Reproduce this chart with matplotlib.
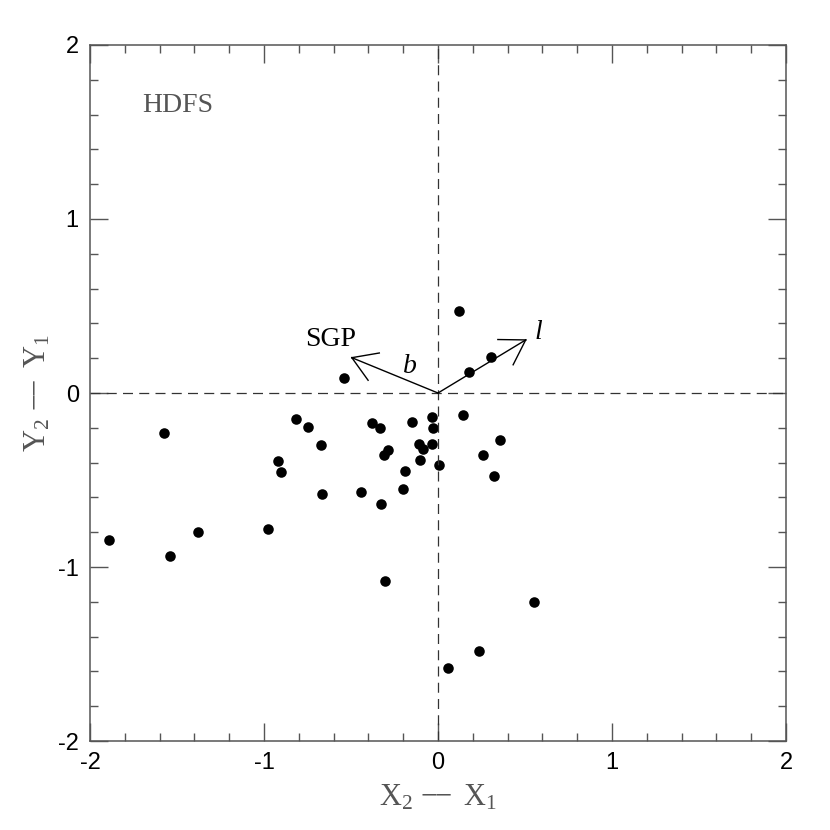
import numpy as np
import matplotlib
matplotlib.use("Agg")
import matplotlib.pyplot as plt

plt.rcParams['axes.unicode_minus'] = False
plt.rcParams['mathtext.fontset'] = 'custom'
plt.rcParams['mathtext.rm'] = 'Liberation Serif'
plt.rcParams['mathtext.it'] = 'Liberation Serif:italic'

# positional offsets of the HDFS objects
dx = [0.118, 0.307, 0.176, -0.541, -1.572, -0.816, -0.745, -0.673, -0.921, -0.904,
      -0.666, -0.379, -0.333, -0.151, -0.032, 0.145, -0.028, -0.108, -0.089, -0.036,
      0.358, 0.261, -0.287, -0.312, -0.101, -0.191, 0.007, 0.322, -0.441, -0.203,
      -0.327, -0.979, -1.889, -1.382, -1.538, -0.303, 0.554, 0.233, 0.056]
dy = [0.471, 0.209, 0.120, 0.086, -0.228, -0.149, -0.193, -0.300, -0.388, -0.453,
      -0.583, -0.172, -0.201, -0.168, -0.137, -0.129, -0.201, -0.294, -0.323, -0.293,
      -0.270, -0.355, -0.330, -0.359, -0.384, -0.447, -0.413, -0.478, -0.570, -0.551,
      -0.636, -0.784, -0.846, -0.801, -0.938, -1.080, -1.201, -1.483, -1.580]

# galactic direction arrows (tips)
sgp_tip = (-0.495, 0.203)
l_tip = (0.504, 0.305)

grey = "#555555"
fig = plt.figure(figsize=(8.3, 8.3), dpi=100)
ax = fig.add_axes([0.1084, 0.1072, 0.8386, 0.8386])

ax.plot(dx, dy, 'o', color='black', markersize=7.6, markeredgewidth=0)

ax.axhline(0, color='#333333', lw=0.9, dashes=(8, 5))
ax.axvline(0, color='#333333', lw=0.9, dashes=(8, 5))

def open_arrow(tip):
    ax.plot([0, tip[0]], [0, tip[1]], color='black', lw=1.0)
    ang = np.arctan2(tip[1], tip[0])
    for s in (-1, 1):
        a = ang + np.pi + s * np.radians(32)
        ax.plot([tip[0], tip[0] + 0.16 * np.cos(a)],
                [tip[1], tip[1] + 0.16 * np.sin(a)], color='black', lw=1.0)

open_arrow(sgp_tip)
open_arrow(l_tip)

serif = ['Liberation Serif', 'DejaVu Serif']
ax.text(-0.765, 0.305, "SGP", family=serif, fontsize=20, va='center', ha='left')
ax.text(-0.16, 0.15, "b", family=serif, fontsize=20, style='italic', va='center', ha='center')
ax.text(0.575, 0.345, "l", family=serif, fontsize=20, style='italic', va='center', ha='center')
ax.text(-1.70, 1.655, "HDFS", family=serif, fontsize=20, color=grey, va='center', ha='left')

ax.set_xlim(-2, 2)
ax.set_ylim(-2, 2)
ax.set_xticks([-2, -1, 0, 1, 2])
ax.set_yticks([-2, -1, 0, 1, 2])
ax.set_xticks(np.arange(-2, 2.01, 0.2), minor=True)
ax.set_yticks(np.arange(-2, 2.01, 0.2), minor=True)
ax.tick_params(which='both', direction='in', top=True, right=True, color=grey, width=1.0)
ax.tick_params(which='major', length=13, labelsize=17, pad=8)
ax.tick_params(which='minor', length=6)
for lab in ax.get_xticklabels() + ax.get_yticklabels():
    lab.set_family(['Liberation Sans', 'DejaVu Sans'])
for sp in ax.spines.values():
    sp.set_color(grey)
    sp.set_linewidth(1.1)

ax.set_xlabel(r"$\mathrm{X}_2\ \mathrm{-\!\!-}\ \mathrm{X}_1$", fontsize=22, color=grey, labelpad=6)
ax.set_ylabel(r"$\mathrm{Y}_2\ \mathrm{-\!\!-}\ \mathrm{Y}_1$", fontsize=22, color=grey, labelpad=4)

fig.savefig("out.png", dpi=100)
